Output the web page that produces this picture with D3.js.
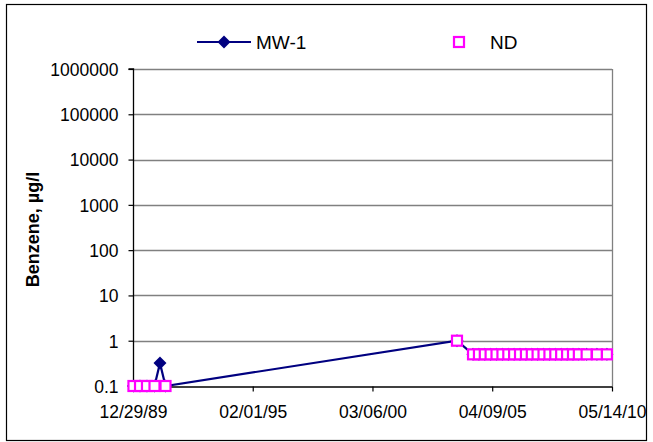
<!DOCTYPE html>
<html>
<head>
<meta charset="utf-8">
<script src="https://cdn.jsdelivr.net/npm/d3@7"></script>
<style>
  html, body { margin: 0; padding: 0; background: #fff; }
  svg { display: block; font-family: Arial, "Liberation Sans", sans-serif; }
</style>
</head>
<body>
<svg id="chart" width="653" height="442"></svg>
<script>
// Sampling dates for well MW-1
const sampleDates = [
  "1990-01-05", "1990-04-17", "1990-08-03", "1990-11-28", "1991-02-21", "1991-05-18",
  "2003-10-10",
  "2004-06-15", "2004-09-15", "2004-12-15", "2005-03-15", "2005-06-15", "2005-09-15",
  "2005-12-15", "2006-03-15", "2006-06-15", "2006-09-15", "2006-12-15", "2007-03-15",
  "2007-06-15", "2007-09-15", "2007-12-15", "2008-03-15", "2008-06-15", "2008-09-15",
  "2008-12-15", "2009-04-15", "2009-09-22", "2010-02-24"
];
// Benzene concentration (ug/l); non-detects plotted at the reporting limit
const mw1Values = [
  0.1, 0.1, 0.1, 0.1, 0.32, 0.1,
  1,
  0.5, 0.5, 0.5, 0.5, 0.5, 0.5,
  0.5, 0.5, 0.5, 0.5, 0.5, 0.5,
  0.5, 0.5, 0.5, 0.5, 0.5, 0.5,
  0.5, 0.5, 0.5, 0.5
];
// Non-detect flags (1 = not detected)
const ndFlags = [
  1, 1, 1, 1, 0, 1,
  1,
  1, 1, 1, 1, 1, 1,
  1, 1, 1, 1, 1, 1,
  1, 1, 1, 1, 1, 1,
  1, 1, 1, 1
];

const yTickValues = [0.1, 1, 10, 100, 1000, 10000, 100000, 1000000];
const yTickLabels = ["0.1", "1", "10", "100", "1000", "10000", "100000", "1000000"];
const xTickDates = ["1989-12-29", "1995-02-01", "2000-03-06", "2005-04-09", "2010-05-14"];
const xTickLabels = ["12/29/89", "02/01/95", "03/06/00", "04/09/05", "05/14/10"];

const seriesNames = ["MW-1", "ND"];
const yTitle = "Benzene, \u00b5g/l";

const parse = d3.utcParse("%Y-%m-%d");
const svg = d3.select("#chart");

const plot = { left: 133, right: 612, top: 69, bottom: 386 };
const navy = "#000080", magenta = "#ff00ff", grid = "#808080";

const x = d3.scaleUtc()
  .domain([parse(xTickDates[0]), parse(xTickDates[xTickDates.length - 1])])
  .range([plot.left, plot.right]);
const y = d3.scaleLog().domain([0.1, 1000000]).range([plot.bottom, plot.top]);

// outer chart border
svg.append("rect")
  .attr("x", 6.5).attr("y", 4.5).attr("width", 640).attr("height", 436)
  .attr("fill", "#fff").attr("stroke", "#000").attr("stroke-width", 1.2);

// horizontal gridlines
svg.append("g").selectAll("line").data(yTickValues.slice(1)).join("line")
  .attr("x1", plot.left).attr("x2", plot.right)
  .attr("y1", d => Math.round(y(d)) + 0.5).attr("y2", d => Math.round(y(d)) + 0.5)
  .attr("stroke", grid).attr("stroke-width", 1.3);

// right edge of plot area
svg.append("line")
  .attr("x1", plot.right + 0.5).attr("x2", plot.right + 0.5)
  .attr("y1", plot.top).attr("y2", plot.bottom)
  .attr("stroke", grid).attr("stroke-width", 1.3);

// axes
const fmtY = d => yTickLabels[yTickValues.indexOf(d)];
const yAxis = d3.axisLeft(y).tickValues(yTickValues).tickFormat(fmtY)
  .tickSize(5).tickPadding(10);
const xAxis = d3.axisBottom(x).tickValues(xTickDates.map(parse))
  .tickFormat((d, i) => xTickLabels[i]).tickSize(5).tickPadding(12).tickSizeOuter(0);

const gy = svg.append("g").attr("transform", `translate(${plot.left + 0.5},0)`).call(yAxis);
const gx = svg.append("g").attr("transform", `translate(0,${plot.bottom + 0.5})`).call(xAxis);
[gx, gy].forEach(g => {
  g.select(".domain").attr("stroke", "#000").attr("stroke-width", 1.3);
  g.selectAll(".tick line").attr("stroke", "#000").attr("stroke-width", 1.2);
  g.selectAll("text").attr("fill", "#000").style("font-size", "17.5px")
    .style("font-family", "Arial, 'Liberation Sans', sans-serif");
});
gy.select(".domain").attr("d", `M-5,${plot.top}H0V${plot.bottom}`);
gy.selectAll(".tick text").attr("dy", "0.36em");
gx.selectAll(".tick text").attr("dy", "0.8em");

// y axis title
svg.append("text")
  .attr("transform", `translate(39,${(plot.top + plot.bottom) / 2 + 2}) rotate(-90)`)
  .attr("text-anchor", "middle")
  .style("font-size", "18px").style("font-weight", "bold")
  .text(yTitle);

const rows = sampleDates.map((d, i) => ({ date: parse(d), value: mw1Values[i], nd: ndFlags[i] }));

// MW-1 line
svg.append("path")
  .datum(rows)
  .attr("fill", "none").attr("stroke", navy).attr("stroke-width", 2.2)
  .attr("d", d3.line().x(d => x(d.date)).y(d => y(d.value)));

// diamond marker outline
const diamondPath = "M0,-6.5L6.5,0L0,6.5L-6.5,0Z";

svg.append("g").selectAll("path").data(rows).join("path")
  .attr("transform", d => `translate(${x(d.date)},${y(d.value)})`)
  .attr("d", diamondPath).attr("fill", navy);

// ND markers
svg.append("g").selectAll("rect").data(rows.filter(d => d.nd === 1)).join("rect")
  .attr("x", d => x(d.date) - 5).attr("y", d => y(d.value) - 5)
  .attr("width", 10).attr("height", 10)
  .attr("fill", "#fff").attr("stroke", magenta).attr("stroke-width", 2.2);

// legend
const lg = svg.append("g");
lg.append("line").attr("x1", 197).attr("x2", 251).attr("y1", 42).attr("y2", 42)
  .attr("stroke", navy).attr("stroke-width", 2.2);
lg.append("path").attr("transform", "translate(224,42)").attr("d", diamondPath).attr("fill", navy);
lg.append("text").attr("x", 256).attr("y", 49).style("font-size", "19px").text(seriesNames[0]);
lg.append("rect").attr("x", 454).attr("y", 37).attr("width", 10).attr("height", 10)
  .attr("fill", "#fff").attr("stroke", magenta).attr("stroke-width", 2.2);
lg.append("text").attr("x", 490).attr("y", 49).style("font-size", "19px").text(seriesNames[1]);
</script>
</body>
</html>
